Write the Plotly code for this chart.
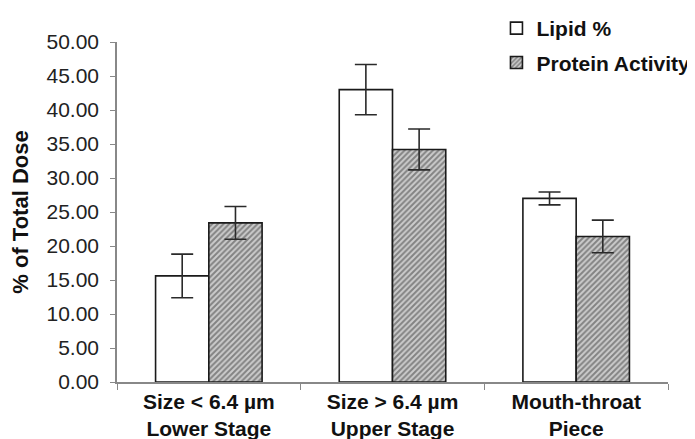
import plotly.graph_objects as go

categories = ["Size < 6.4 µm<br>Lower Stage", "Size > 6.4 µm<br>Upper Stage", "Mouth-throat<br>Piece"]
lipid = [15.6, 43.0, 27.0]
lipid_err = [3.2, 3.7, 0.95]
protein = [23.4, 34.2, 21.4]
protein_err = [2.4, 3.0, 2.4]
y_ticks = [0, 5, 10, 15, 20, 25, 30, 35, 40, 45, 50]

font_family = "Liberation Sans, Arial, sans-serif"

fig = go.Figure()
fig.add_trace(go.Bar(
    name="<b>Lipid %</b>", x=categories, y=lipid,
    marker=dict(color="white", line=dict(color="#1a1a1a", width=1.6)),
    error_y=dict(type="data", array=lipid_err, color="#2a2a2a", thickness=1.6, width=11),
    legendgroup="a",
))
fig.add_trace(go.Bar(
    name="<b>Protein Activity</b>", x=categories, y=protein,
    marker=dict(color="#cccccc", line=dict(color="#1a1a1a", width=1.6),
                pattern=dict(shape="/", fgcolor="#3a3a3a", bgcolor="#cccccc", size=4, solidity=0.5)),
    error_y=dict(type="data", array=protein_err, color="#2a2a2a", thickness=1.6, width=11),
    legendgroup="b",
))

fig.update_layout(
    width=687, height=431,
    margin=dict(l=109, r=27, t=34, b=57, autoexpand=False),
    paper_bgcolor="white", plot_bgcolor="white",
    barmode="group", bargap=0.42, bargroupgap=0,
    font=dict(family=font_family, size=21, color="#222222"),
    showlegend=True,
    legend=dict(xref="container", yref="container", x=0.711, y=1.012, xanchor="left", yanchor="top",
                font=dict(size=21, color="#111111", family=font_family), tracegroupgap=4,
                bgcolor="rgba(0,0,0,0)"),
    xaxis=dict(showline=True, linecolor="#888888", linewidth=1.5, ticks="outside", tickson="boundaries",
               ticklen=6, tickcolor="#888888", showgrid=False, tickangle=0, automargin=False,
               tickvals=categories, ticktext=["<b>" + c + "</b>" for c in categories],
               tickfont=dict(size=21, color="#111111", family=font_family)),
    yaxis=dict(range=[0, 50], tickvals=y_ticks, tickformat=".2f", showline=True, linecolor="#888888",
               linewidth=1.5, ticks="outside", ticklen=5, tickcolor="#888888", showgrid=False,
               zeroline=False, automargin=False, ticklabelstandoff=7,
               tickfont=dict(size=21, color="#222222", family=font_family),
               title=dict(text="<b>% of Total Dose</b>", font=dict(size=22, color="#111111"), standoff=14)),
)

fig.write_html("out.html")
